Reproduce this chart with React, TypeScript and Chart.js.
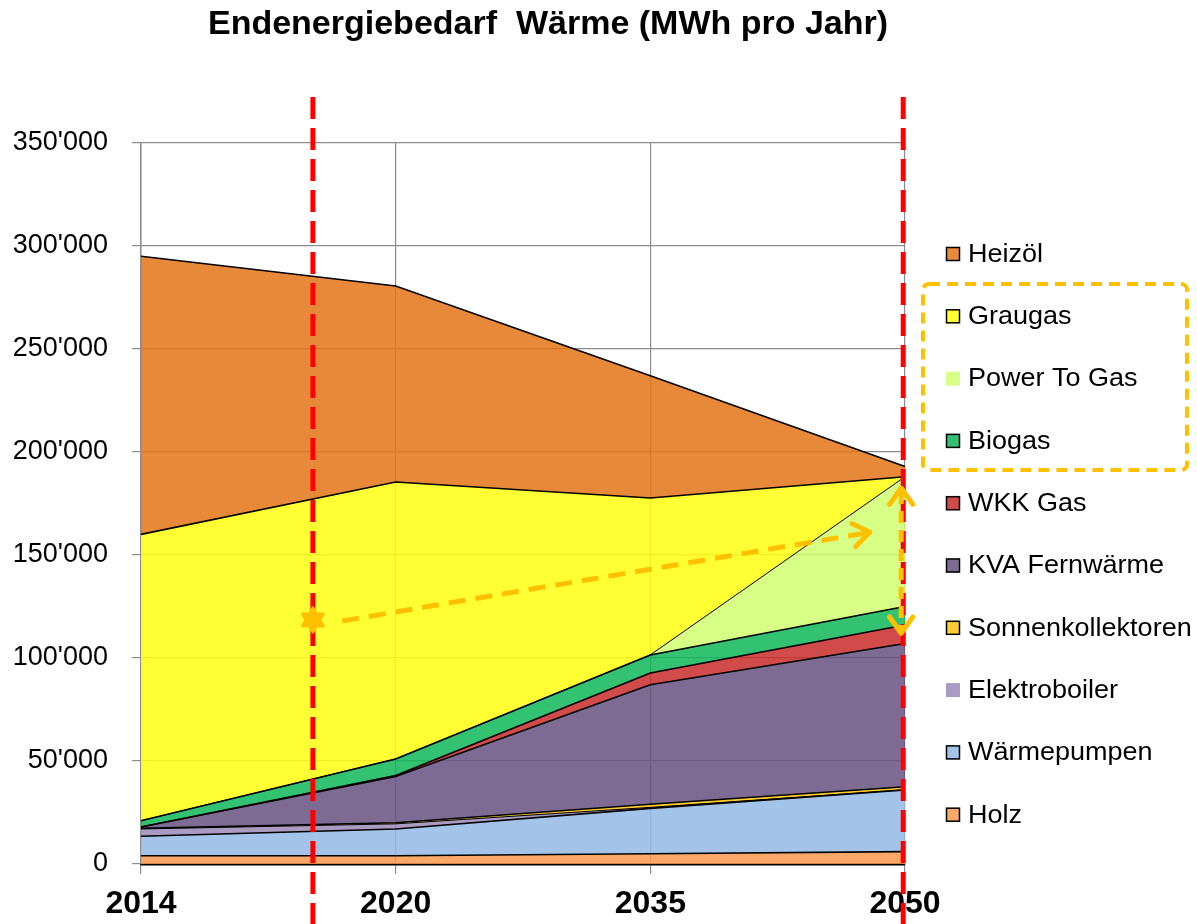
import React, { useEffect, useRef } from "react";
import { Chart, registerables } from "chart.js";

Chart.register(...registerables);

// ---------- data ----------
const years = ["2014", "2020", "2035", "2050"];
const holz = [4000, 4000, 5000, 6000];
const waermepumpen = [9500, 13000, 22000, 30000];
const elektroboiler = [3500, 2500, 500, 0];
const sonnenkollektoren = [300, 500, 1500, 1500];
const kvaFernwaerme = [700, 22500, 58000, 69500];
const wkkGas = [0, 500, 5700, 9000];
const biogas = [3000, 8000, 8800, 9000];
const powerToGas = [0, 0, 0, 63000];
const graugas = [139000, 134400, 76200, 0];
const heizoel = [135000, 95200, 59300, 5000];

const yMax = 350000;
const yStep = 50000;

// annotation positions (category index, value)
const markerIndex = 0.675;
const endIndex = 2.993;
const starPoint = [0.675, 118500];
const trendFrom = [0.79, 118000];
const trendTo = [2.862, 161000];
const rangeArrow = [2.985, 112000, 182500];

const FONT = '"Liberation Sans", Arial, Helvetica, sans-serif';

type S = { label: string; data: number[]; fill: string; legend: string; border: boolean };
// bottom -> top
const series: S[] = [
  { label: "Holz", data: holz, fill: "rgba(248,153,80,0.85)", legend: "#F9A86A", border: true },
  { label: "Wärmepumpen", data: waermepumpen, fill: "rgba(147,184,229,0.85)", legend: "#A3C3E9", border: true },
  { label: "Elektroboiler", data: elektroboiler, fill: "rgba(154,137,183,0.85)", legend: "#A99BC2", border: false },
  { label: "Sonnenkollektoren", data: sonnenkollektoren, fill: "rgba(255,195,15,0.85)", legend: "#FFCC33", border: true },
  { label: "KVA Fernwärme", data: kvaFernwaerme, fill: "rgba(103,81,129,0.85)", legend: "#7E6B94", border: true },
  { label: "WKK Gas", data: wkkGas, fill: "rgba(202,43,43,0.85)", legend: "#D24B4B", border: true },
  { label: "Biogas", data: biogas, fill: "rgba(15,183,89,0.85)", legend: "#33C272", border: true },
  { label: "Power To Gas", data: powerToGas, fill: "rgba(208,255,113,0.85)", legend: "#D7FF86", border: false },
  { label: "Graugas", data: graugas, fill: "rgba(255,255,15,0.85)", legend: "#FFFF33", border: true },
  { label: "Heizöl", data: heizoel, fill: "rgba(228,116,24,0.85)", legend: "#E8893B", border: true },
];

const fmt = (v: number) => String(v).replace(/\B(?=(\d{3})+(?!\d))/g, "'");

function chevron(ctx: CanvasRenderingContext2D, tx: number, ty: number, fx: number, fy: number, len: number) {
  const ang = Math.atan2(ty - fy, tx - fx);
  const spread = 0.62;
  ctx.beginPath();
  ctx.moveTo(tx - len * Math.cos(ang - spread), ty - len * Math.sin(ang - spread));
  ctx.lineTo(tx, ty);
  ctx.lineTo(tx - len * Math.cos(ang + spread), ty - len * Math.sin(ang + spread));
  ctx.stroke();
}

const overlay = {
  id: "overlay",
  afterDraw(chart: any) {
    const ctx: CanvasRenderingContext2D = chart.ctx;
    const xs = chart.scales.x;
    const ys = chart.scales.y;
    ctx.save();

    // title
    ctx.fillStyle = "#000";
    ctx.font = `bold 34px ${FONT}`;
    ctx.textAlign = "center";
    ctx.textBaseline = "middle";
    ctx.fillText("Endenergiebedarf  Wärme (MWh pro Jahr)", 548, 25);

    // legend
    const items = [...series].reverse();
    ctx.font = `25px ${FONT}`;
    ctx.textAlign = "left";
    items.forEach((it, i) => {
      const cy = 254 + i * 62.3;
      ctx.fillStyle = it.legend;
      ctx.fillRect(946, cy - 7, 14, 14);
      if (it.border) {
        ctx.strokeStyle = "#000";
        ctx.lineWidth = 1.5;
        ctx.strokeRect(946.5, cy - 6.5, 13, 13);
      }
      ctx.fillStyle = "#000";
      ctx.save();
      ctx.translate(968, cy + 1);
      ctx.scale(1.08, 1);
      ctx.fillText(it.label, 0, 0);
      ctx.restore();
    });

    // dashed orange box around gas group
    ctx.strokeStyle = "#FFC000";
    ctx.lineWidth = 4;
    ctx.setLineDash([11, 7]);
    ctx.beginPath();
    (ctx as any).roundRect(923, 284, 264, 186, 6);
    ctx.stroke();

    // red dashed vertical lines
    ctx.strokeStyle = "#FF0000";
    ctx.lineWidth = 5;
    ctx.setLineDash([22, 9]);
    ctx.lineCap = "butt";
    [markerIndex, endIndex].forEach((ix) => {
      const px = xs.getPixelForValue(ix);
      ctx.beginPath();
      ctx.moveTo(px, 97);
      ctx.lineTo(px, 924);
      ctx.stroke();
    });

    // orange trend arrow
    ctx.strokeStyle = "#FFC000";
    ctx.lineWidth = 5;
    ctx.setLineDash([17, 10]);
    const ax = xs.getPixelForValue(trendFrom[0]);
    const ay = ys.getPixelForValue(trendFrom[1]);
    const bx = xs.getPixelForValue(trendTo[0]);
    const by = ys.getPixelForValue(trendTo[1]);
    ctx.beginPath();
    ctx.moveTo(ax, ay);
    ctx.lineTo(bx, by);
    ctx.stroke();
    ctx.setLineDash([]);
    ctx.lineCap = "round";
    ctx.lineJoin = "round";
    chevron(ctx, bx, by, ax, ay, 20);

    // vertical double arrow
    const vx = xs.getPixelForValue(rangeArrow[0]);
    const v1 = ys.getPixelForValue(rangeArrow[1]);
    const v2 = ys.getPixelForValue(rangeArrow[2]);
    ctx.lineCap = "butt";
    ctx.setLineDash([12, 7]);
    ctx.beginPath();
    ctx.moveTo(vx, v2 + 4);
    ctx.lineTo(vx, v1 - 4);
    ctx.stroke();
    ctx.setLineDash([]);
    ctx.lineCap = "round";
    chevron(ctx, vx, v2, vx, v1, 20);
    chevron(ctx, vx, v1, vx, v2, 20);

    // star marker
    const sx = xs.getPixelForValue(starPoint[0]);
    const sy = ys.getPixelForValue(starPoint[1]);
    ctx.fillStyle = "#FFC000";
    ctx.beginPath();
    for (let k = 0; k < 12; k++) {
      const r = k % 2 === 0 ? 12 : 7;
      const a = -Math.PI / 2 + (k * Math.PI) / 6;
      const px = sx + r * Math.cos(a);
      const py = sy + r * Math.sin(a);
      if (k === 0) ctx.moveTo(px, py);
      else ctx.lineTo(px, py);
    }
    ctx.closePath();
    ctx.strokeStyle = "#FFC000";
    ctx.lineWidth = 3;
    ctx.fill();
    ctx.stroke();

    ctx.restore();
  },
};

export default function App() {
  const ref = useRef<HTMLCanvasElement | null>(null);
  useEffect(() => {
    if (!ref.current) return;
    const chart = new Chart(ref.current, {
      type: "line",
      data: {
        labels: years,
        datasets: series.map((s, i) => ({
          label: s.label,
          data: s.data,
          backgroundColor: s.fill,
          borderColor: "#000",
          borderWidth: s.border ? 1.6 : 1,
          pointRadius: 0,
          pointHoverRadius: 0,
          tension: 0,
          fill: i === 0 ? "origin" : "-1",
        })),
      },
      options: {
        responsive: false,
        animation: false,
        events: [],
        layout: { padding: { top: 143, right: 292, left: 0, bottom: 0 } },
        plugins: {
          legend: { display: false },
          title: { display: false },
          tooltip: { enabled: false },
        },
        scales: {
          x: {
            type: "category",
            offset: false,
            afterFit: (s: any) => {
              s.height = 60;
            },
            grid: {
              color: "#8c8c8c",
              lineWidth: 1.2,
              tickLength: 10,
              drawOnChartArea: true,
            },
            border: { color: "#000", width: 2.5 },
            ticks: {
              color: "#000",
              font: { family: FONT, size: 32, weight: "bold" },
              padding: 11,
              maxRotation: 0,
              autoSkip: false,
            },
          },
          y: {
            stacked: true,
            min: 0,
            max: yMax,
            afterFit: (s: any) => {
              s.width = 141;
            },
            grid: { color: "#8c8c8c", lineWidth: 1.2, tickLength: 9 },
            border: { color: "#8c8c8c", width: 1.5 },
            ticks: {
              stepSize: yStep,
              color: "#000",
              font: { family: FONT, size: 27 },
              padding: 24,
              callback: (v: any) => fmt(Number(v)),
            },
          },
        },
      },
      plugins: [overlay],
    });
    return () => chart.destroy();
  }, []);
  return (
    <div style={{ position: "absolute", left: 0, top: 0, width: 1197, height: 924, background: "#fff" }}>
      <canvas ref={ref} width={1197} height={924} />
    </div>
  );
}
